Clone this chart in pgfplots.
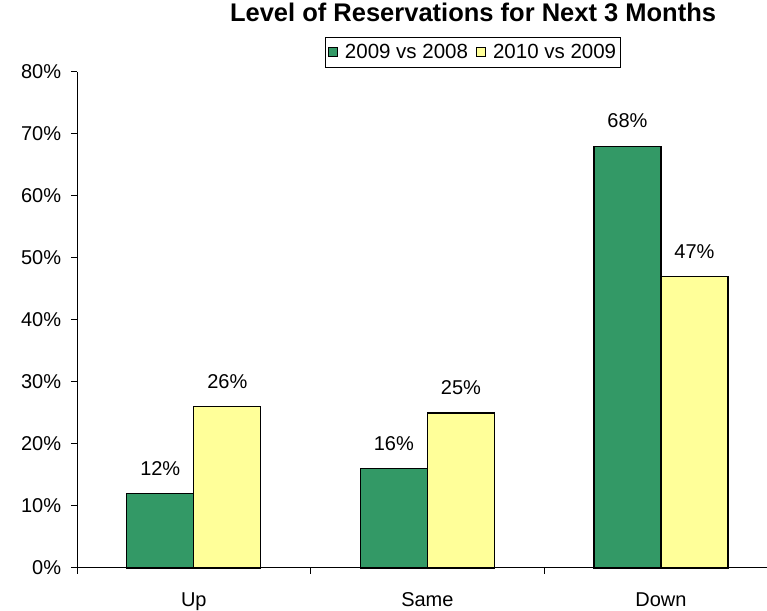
\documentclass[border=0pt]{standalone}
\usepackage{fontspec}
\setmainfont{Liberation Sans}
\usepackage{pgfplots}
\pgfplotsset{compat=1.18}
\definecolor{barGreen}{HTML}{339966}
\definecolor{barYellow}{HTML}{FFFF99}
\begin{document}
\fontsize{20}{23}\selectfont
\begin{tikzpicture}
\begin{axis}[
  name=ax,
  scale only axis,
  width=690pt, height=496pt,
  xmin=-0.5, xmax=2.454,
  ymin=0, ymax=80,
  axis y line*=left,
  axis x line*=bottom,
  axis line style={black, line width=1pt},
  tick align=outside,
  tick style={black, line width=1pt},
  major tick length=6pt,
  ytick={0,10,...,80},
  yticklabel={\pgfmathprintnumber{\tick}\%},
  /pgf/number format/assume math mode=true,
  xtick={-0.5,0.5,1.5},
  xticklabels={},
  extra x ticks={0,1,2},
  extra x tick labels={Up,Same,Down},
  extra x tick style={major tick length=0pt, xticklabel style={yshift=-18pt}},
  ticklabel style={font=\fontsize{20}{23}\selectfont},
  yticklabel style={xshift=-3pt},
  clip=false,
  ybar,
  bar width=0.287,
  nodes near coords={\pgfmathprintnumber{\pgfplotspointmeta}\%},
  every node near coord/.append style={font=\fontsize{20}{23}\selectfont, yshift=11pt},
  title={Level of Reservations for Next 3 Months},
  title style={at={(0.574,1.108)}, anchor=center, font=\fontsize{25.5}{29}\selectfont\bfseries},
  legend columns=2,
  legend style={at={(0.574,1.07)}, anchor=north, draw=black, line width=1pt,
    font=\fontsize{20.5}{24}\selectfont, inner xsep=2pt, inner ysep=4pt,
    /tikz/every odd column/.append style={column sep=5pt},
    /tikz/every even column/.append style={column sep=6pt}},
  legend image code/.code={\draw[#1, draw=black, line width=1pt] (0pt,-4.5pt) rectangle (9pt,4.5pt);},
]
\addplot[fill=barGreen, draw=black, line width=1.3pt, bar shift=-0.1435] coordinates {(0,12) (1,16) (2,68)};
\addplot[fill=barYellow, draw=black, line width=1.3pt, bar shift=0.1435] coordinates {(0,26) (1,25) (2,47)};
\legend{2009 vs 2008, 2010 vs 2009}
\end{axis}
\pgfresetboundingbox
\path ([xshift=-77pt,yshift=-43pt]ax.south west) rectangle ([yshift=72pt]ax.north east);
\end{tikzpicture}
\end{document}
